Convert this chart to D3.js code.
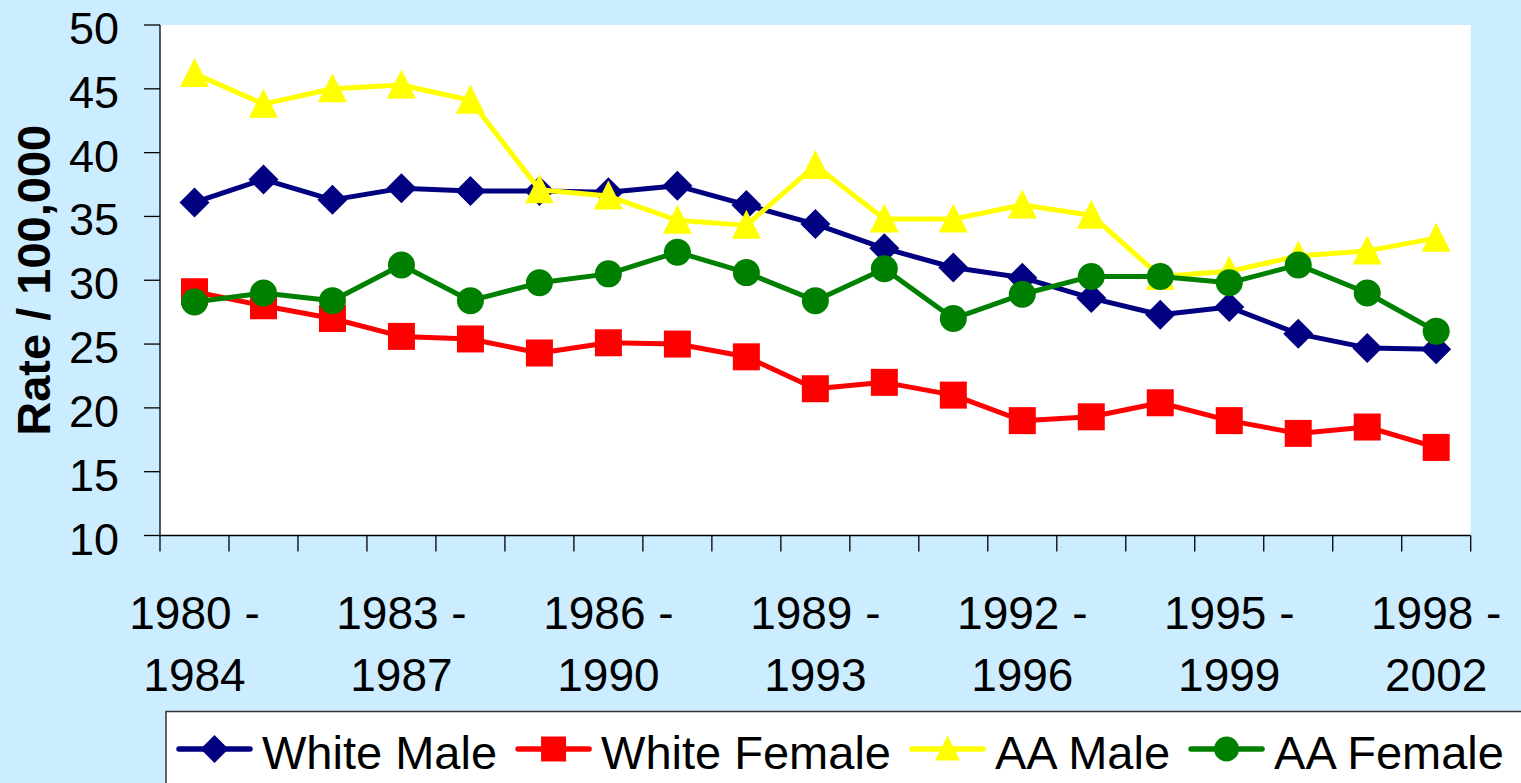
<!DOCTYPE html>
<html>
<head>
<meta charset="utf-8">
<script src="https://cdn.jsdelivr.net/npm/d3@7"></script>
<style>
  html, body { margin: 0; padding: 0; background: #CCECFF; }
  svg { display: block; }
  text { font-family: "Liberation Sans", Arial, sans-serif; fill: #000; }
</style>
</head>
<body>
<div id="chart"></div>
<script>
// data
const categories = ["1980 - 1984", "1981 - 1985", "1982 - 1986", "1983 - 1987", "1984 - 1988",
  "1985 - 1989", "1986 - 1990", "1987 - 1991", "1988 - 1992", "1989 - 1993", "1990 - 1994",
  "1991 - 1995", "1992 - 1996", "1993 - 1997", "1994 - 1998", "1995 - 1999", "1996 - 2000",
  "1997 - 2001", "1998 - 2002"]
const whiteMale   = [36.1, 37.9, 36.3, 37.2, 37.0, 37.0, 36.9, 37.4, 35.9, 34.4, 32.5, 31.0, 30.2, 28.6, 27.3, 27.9, 25.8, 24.7, 24.6]
const whiteFemale = [29.1, 28.0, 27.0, 25.6, 25.4, 24.3, 25.1, 25.0, 24.0, 21.5, 22.0, 21.0, 19.0, 19.3, 20.4, 19.0, 18.0, 18.5, 16.9]
const aaMale      = [46.2, 43.8, 45.0, 45.3, 44.1, 37.1, 36.6, 34.7, 34.3, 39.0, 34.8, 34.8, 35.9, 35.1, 30.3, 30.7, 31.9, 32.3, 33.3]
const aaFemale    = [28.3, 29.0, 28.4, 31.2, 28.4, 29.8, 30.5, 32.2, 30.6, 28.4, 30.9, 27.0, 28.9, 30.3, 30.3, 29.8, 31.2, 29.0, 26.0]
const seriesNames = ["White Male", "White Female", "AA Male", "AA Female"]
const yTicks = [10, 15, 20, 25, 30, 35, 40, 45, 50]

let width = 1521,
    height = 783

let series = [
  { name: seriesNames[0], values: whiteMale,   color: "#000080", shape: "diamond" },
  { name: seriesNames[1], values: whiteFemale, color: "#FF0000", shape: "square" },
  { name: seriesNames[2], values: aaMale,      color: "#FFFF00", shape: "triangle" },
  { name: seriesNames[3], values: aaFemale,    color: "#008000", shape: "circle" }
]

let svg = d3.select("#chart")
  .append("svg")
  .attr("width", width)
  .attr("height", height)

let plot = { left: 160, top: 25, right: 1470.7, bottom: 535.5 }

let x = d3.scaleBand().domain(categories).range([plot.left, plot.right])
let cx = function (c) { return x(c) + x.bandwidth() / 2 }
let y = d3.scaleLinear().domain([10, 50]).range([plot.bottom, plot.top])

svg.append("rect")
  .attr("x", plot.left)
  .attr("y", plot.top)
  .attr("width", plot.right - plot.left)
  .attr("height", plot.bottom - plot.top)
  .attr("fill", "#fff")

// marker shapes
function marker(shape, s) {
  let h = s / 2
  if (shape === "diamond") return `M0,${-h}L${h},0L0,${h}L${-h},0Z`
  if (shape === "square") return `M${-h},${-h}H${h}V${h}H${-h}Z`
  if (shape === "triangle") return `M0,${-h - 1}L${h},${h - 1}L${-h},${h - 1}Z`
  return d3.symbol(d3.symbolCircle, Math.PI * h * h)()
}
let markerSize = { diamond: 30, square: 27, triangle: 29, circle: 27 }

// y axis
svg.append("line")
  .attr("x1", plot.left).attr("x2", plot.left)
  .attr("y1", plot.top).attr("y2", plot.bottom)
  .attr("stroke", "#000").attr("stroke-width", 1.3)

svg.selectAll(".ytick")
  .data(yTicks)
  .enter().append("line")
  .attr("x1", plot.left - 16).attr("x2", plot.left)
  .attr("y1", function (d) { return y(d) }).attr("y2", function (d) { return y(d) })
  .attr("stroke", "#000").attr("stroke-width", 1.3)

svg.selectAll(".ylabel")
  .data(yTicks)
  .enter().append("text")
  .attr("x", 119)
  .attr("y", function (d) { return y(d) + 19 })
  .attr("text-anchor", "end")
  .style("font-size", "45px")
  .text(function (d) { return d })

svg.append("text")
  .attr("transform", `translate(50,${(plot.top + plot.bottom) / 2}) rotate(-90)`)
  .attr("text-anchor", "middle")
  .style("font-size", "47px")
  .style("font-weight", "bold")
  .text("Rate / 100,000")

// x axis
svg.append("line")
  .attr("x1", plot.left).attr("x2", plot.right)
  .attr("y1", plot.bottom).attr("y2", plot.bottom)
  .attr("stroke", "#000").attr("stroke-width", 1.3)

svg.selectAll(".xtick")
  .data(categories.concat([null]))
  .enter().append("line")
  .attr("x1", function (d) { return d === null ? plot.right : x(d) })
  .attr("x2", function (d) { return d === null ? plot.right : x(d) })
  .attr("y1", plot.bottom).attr("y2", plot.bottom + 16)
  .attr("stroke", "#000").attr("stroke-width", 1.3)

let xLabels = svg.selectAll(".xlabel")
  .data(categories.filter(function (d, i) { return i % 3 === 0 }))
  .enter().append("text")
  .attr("text-anchor", "middle")
  .style("font-size", "46px")

xLabels.append("tspan")
  .attr("x", function (d) { return cx(d) })
  .attr("y", 629)
  .text(function (d) { return d.split(" - ")[0] + " -" })
xLabels.append("tspan")
  .attr("x", function (d) { return cx(d) })
  .attr("y", 691)
  .text(function (d) { return d.split(" - ")[1] })

// series
let line = d3.line()
  .x(function (d, i) { return cx(categories[i]) })
  .y(function (d) { return y(d) })

series.forEach(function (s) {
  let g = svg.append("g")
  g.append("path")
    .attr("d", line(s.values))
    .attr("fill", "none")
    .attr("stroke", s.color)
    .attr("stroke-width", 5)
    .attr("stroke-linejoin", "round")
  g.selectAll("path.pt")
    .data(s.values)
    .enter().append("path")
    .attr("class", "pt")
    .attr("transform", function (d, i) { return `translate(${cx(categories[i])},${y(d)})` })
    .attr("d", marker(s.shape, markerSize[s.shape]))
    .attr("fill", s.color)
})

// legend
svg.append("rect")
  .attr("x", 166)
  .attr("y", 711.5)
  .attr("width", 1400)
  .attr("height", 200)
  .attr("fill", "#fff")
  .attr("stroke", "#333")
  .attr("stroke-width", 1.5)

let lx = 179
series.forEach(function (s) {
  let g = svg.append("g").attr("transform", `translate(${lx},749)`)
  g.append("line")
    .attr("x1", 0).attr("x2", 71)
    .attr("stroke", s.color)
    .attr("stroke-width", 5.5)
    .attr("stroke-linecap", "round")
  g.append("path")
    .attr("transform", "translate(35.5,0)")
    .attr("d", marker(s.shape, s.shape === "diamond" ? 28 : 25))
    .attr("fill", s.color)
  let t = g.append("text")
    .attr("x", 83)
    .attr("y", 20)
    .style("font-size", "47px")
    .text(s.name)
  lx += 83 + t.node().getComputedTextLength() + 21
})
</script>
</body>
</html>
